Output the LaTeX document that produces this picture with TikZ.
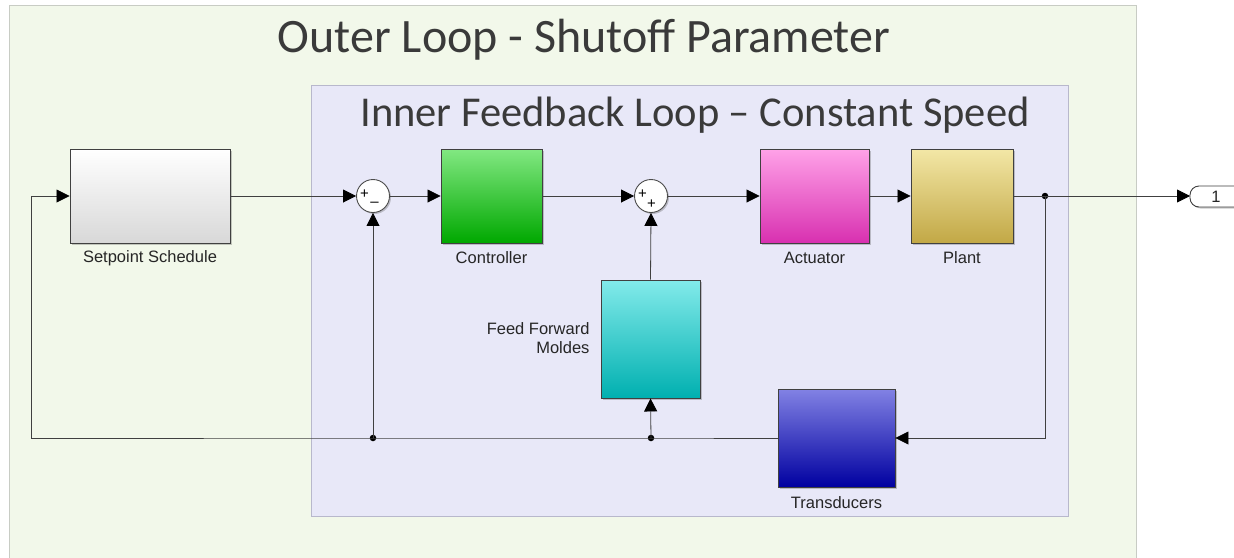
\documentclass[tikz,border=0pt]{standalone}
\usepackage{fontspec}
\setmainfont{Liberation Sans}
\newfontfamily\titlefont{Carlito}
\usetikzlibrary{arrows.meta,shadows,calc}
\definecolor{outerbg}{HTML}{F2F8EA}
\definecolor{outerbd}{HTML}{C8CCC4}
\definecolor{innerbg}{HTML}{E8E8F8}
\definecolor{innerbd}{HTML}{B8B8CC}
\definecolor{wire}{HTML}{404040}
\definecolor{ttl}{HTML}{3A3A3A}
\definecolor{spT}{HTML}{FFFFFF}\definecolor{spB}{HTML}{D8D8D8}
\definecolor{ctT}{HTML}{82E882}\definecolor{ctB}{HTML}{00A800}
\definecolor{acT}{HTML}{FFA2E8}\definecolor{acB}{HTML}{D830B0}
\definecolor{plT}{HTML}{F3E7A6}\definecolor{plB}{HTML}{C2A846}
\definecolor{ffT}{HTML}{82EAEA}\definecolor{ffB}{HTML}{00B0B0}
\definecolor{trT}{HTML}{8282E4}\definecolor{trB}{HTML}{0000A0}
\tikzset{
  blk/.style 2 args={draw=black!75,line width=0.9pt,top color=#1,middle color=#1!65!#2,bottom color=#2,
    drop shadow={shadow xshift=2pt,shadow yshift=-2pt,opacity=0.35,fill=black!60}},
  sumc/.style={circle,draw=black!70,line width=0.9pt,fill=white,minimum size=33pt,inner sep=0pt,
    drop shadow={shadow xshift=1.5pt,shadow yshift=-1.5pt,opacity=0.35,fill=black!60}},
  lbl/.style={font=\fontsize{16.5}{19.5}\selectfont,text=black!85},
  sgn/.style={font=\fontsize{15}{15}\selectfont,inner sep=0pt},
  wr/.style={draw=wire,line width=0.8pt},
  arr/.style={wr,-{Triangle[length=13pt,width=13pt,color=black]}},
  dot/.style={circle,fill=black,inner sep=0pt,minimum size=6.5pt},
}
\begin{document}
\begin{tikzpicture}[x=1pt,y=-1pt]
\useasboundingbox (0,0) rectangle (1234,557);
% outer
\fill[white] (0,0) rectangle (1234,557);
\draw[fill=outerbg,draw=outerbd,line width=1pt] (9,5) rectangle (1136,570);
\node[font=\titlefont\fontsize{48}{54}\selectfont,text=ttl] (ot) at (584,40) {Outer Loop - Shutoff Parameter};
% inner
\draw[fill=innerbg,draw=innerbd,line width=1pt] (311,85) rectangle (1068,516);
\node[font=\titlefont\fontsize{42.5}{48}\selectfont,text=ttl] (it) at (695,115) {Inner Feedback Loop – Constant Speed};
% blocks
\node[blk={spT}{spB},minimum width=160pt,minimum height=94pt,inner sep=0pt] (sp) at (150,196) {};
\node[blk={ctT}{ctB},minimum width=101pt,minimum height=94pt,inner sep=0pt] (ctl) at (491.5,196) {};
\node[blk={acT}{acB},minimum width=109pt,minimum height=94pt,inner sep=0pt] (act) at (814.5,196) {};
\node[blk={plT}{plB},minimum width=102pt,minimum height=94pt,inner sep=0pt] (pl) at (962,196) {};
\node[blk={ffT}{ffB},minimum width=99pt,minimum height=118pt,inner sep=0pt] (ff) at (650.5,339) {};
\node[blk={trT}{trB},minimum width=117pt,minimum height=98pt,inner sep=0pt] (tr) at (836.5,438) {};
% labels
\node[lbl] (lsp) at (150,258) {Setpoint Schedule};
\node[lbl] (lctl) at (491.5,258) {Controller};
\node[lbl] (lact) at (814.5,258) {Actuator};
\node[lbl] (lpl) at (962,258) {Plant};
\node[lbl,align=right,anchor=east] (lff) at (593,338) {Feed Forward\\Moldes};
\node[lbl] (ltr) at (836.5,503) {Transducers};
% sums
\node[sumc] (s1) at (373,196) {};
\node[sgn] (s1a) at (364.5,194.5) {+};
\node[sgn] (s1b) at (374.5,204) {–};
\node[sumc] (s2) at (651,196) {};
\node[sgn] (s2a) at (642.5,194) {+};
\node[sgn] (s2b) at (651.5,204) {+};
% output port
\draw[draw=black!75,line width=0.9pt,fill=white,rounded corners=9pt,
  drop shadow={shadow xshift=1.5pt,shadow yshift=-1.5pt,opacity=0.35,fill=black!60}] (1190,186) rectangle (1260,207);
\coordinate (outp) at (1190,196);
\node[lbl] (one) at (1216,196.5) {1};
% junctions
\coordinate (jb) at (1045,196);
\node[dot] (jbd) at (jb) {};
\node[dot] (j1) at (373,438) {};
\node[dot] (j2) at (651,438) {};
\coordinate (cl) at (31,438);
\coordinate (cr) at (1045,438);
% wires
\draw[arr] (sp.east) -- (s1.west);
\draw[arr] (s1.east) -- (ctl.west);
\draw[arr] (ctl.east) -- (s2.west);
\draw[arr] (s2.east) -- (act.west);
\draw[arr] (act.east) -- (pl.west);
\draw[wr] (pl.east) -- (jb);
\draw[arr] (jb) -- (outp);
\draw[arr] (jb) -- (cr) -- (tr.east);
\draw[wr] (tr.west) -- (j2.center) -- (j1.center) -- (cl);
\draw[arr] (cl) |- (sp.west);
\draw[arr] (j1.center) -- (s1.south);
\draw[arr] (j2.center) -- (ff.south);
\draw[arr] (ff.north) -- (s2.south);
\end{tikzpicture}
\end{document}
